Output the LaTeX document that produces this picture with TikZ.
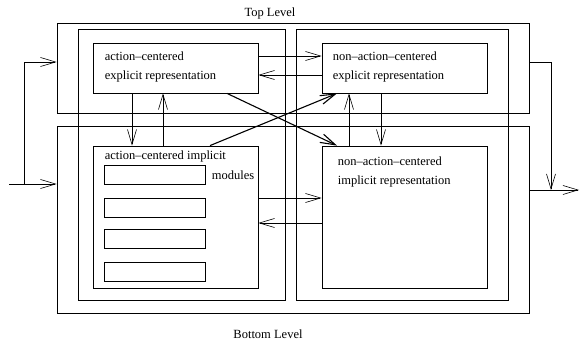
\documentclass[tikz,border=0pt]{standalone}
\usepackage{fontspec}
\setmainfont{Liberation Serif}
\usetikzlibrary{calc,arrows.meta,positioning}

\tikzset{
  frame/.style={draw, line width=0.8pt, inner sep=0pt},
  txt/.style={anchor=north west, inner sep=0pt, align=left, font=\fontsize{12.5}{19}\selectfont},
  lbl/.style={inner sep=0pt, font=\fontsize{12.5}{14}\selectfont},
  arr/.style={-{Straight Barb[length=15pt,width=9pt]}, line width=0.6pt},
}

\begin{document}
\begin{tikzpicture}[x=1pt, y=-1pt]
		%%%%% START %%%%%
		\useasboundingbox (0,0) rectangle (582,347);
		
		% levels
		\node[frame, minimum width=472pt, minimum height=90pt] (toplvl) at (293,68) {};
		\node[frame, minimum width=472pt, minimum height=187pt] (botlvl) at (293,219.5) {};
		\node[lbl] (toplbl) at (270,13) {Top Level};
		\node[lbl] (botlbl) at (268,334) {Bottom Level};
		
		% columns
		\node[frame, minimum width=207pt, minimum height=271pt] (accol) at (181.5,164.5) {};
		\node[frame, minimum width=212pt, minimum height=271pt] (naccol) at (402,164.5) {};
		
		% representations
		\node[frame, minimum width=165pt, minimum height=50pt] (acexp) at (175.5,68) {};
		\node[frame, minimum width=165pt, minimum height=50pt] (nacexp) at (404.5,68) {};
		\node[frame, minimum width=165pt, minimum height=142pt] (acimp) at (175.5,217) {};
		\node[frame, minimum width=165pt, minimum height=142pt] (nacimp) at (404.5,217) {};
		
		\node[txt] (acexptxt) at ($(acexp.north west)+(12,9)$) {action--centered\\explicit representation};
		\node[txt] (nacexptxt) at ($(nacexp.north west)+(11,9)$) {non--action--centered\\explicit representation};
		\node[txt] (acimptxt) at ($(acimp.north west)+(12,5)$) {action--centered implicit};
		\node[txt] (nacimptxt) at ($(nacimp.north west)+(16,11)$) {non--action--centered\\implicit representation};
		
		% modules
		\foreach \i/\y in {1/174.5, 2/207.5, 3/239, 4/271.5}
			\node[frame, minimum width=101pt, minimum height=19pt] (mod\i) at (154.5,\y) {};
		\node[lbl] (modlbl) at (233,175) {modules};
		
		% input and output
		\coordinate (in) at (9,184);
		\coordinate (split) at (24,184);
		\coordinate (outjoin) at (551,190);
		\coordinate (out) at (579,190);
		\draw[arr] (in) -- ($(botlvl.west)+(0,-35.5)$);
		\draw[arr] (split) |- ($(toplvl.west)+(0,-6)$);
		\draw[arr] ($(toplvl.east)+(0,-6)$) -| (outjoin);
		\draw[arr] ($(botlvl.east)+(0,-29.5)$) -- (out);
		
		% between representations
		\draw[arr] ($(acexp.east)+(0,-12)$) -- ($(nacexp.west)+(0,-12)$);
		\draw[arr] ($(nacexp.west)+(0,7)$) -- ($(acexp.east)+(0,7)$);
		\draw[arr] ($(acexp.south)+(-43.5,0)$) -- ($(acimp.north)+(-43.5,0)$);
		\draw[arr] ($(acimp.north)+(-12.5,0)$) -- ($(acexp.south)+(-12.5,0)$);
		\draw[arr] ($(nacexp.south)+(-23.5,0)$) -- ($(nacimp.north)+(-23.5,0)$);
		\draw[arr] ($(nacimp.north)+(-55.5,0)$) -- ($(nacexp.south)+(-55.5,0)$);
		\draw[arr] ($(acimp.east)+(0,-19)$) -- ($(nacimp.west)+(0,-19)$);
		\draw[arr] ($(nacimp.west)+(0,6)$) -- ($(acimp.east)+(0,6)$);
		\draw[arr, line width=1.1pt] ($(acexp.south)+(51.5,0)$) -- ($(nacimp.north)+(-67.5,0)$);
		\draw[arr, line width=1.1pt] ($(acimp.north)+(34.5,0)$) -- ($(nacexp.south)+(-67.5,0)$);
		
		%%%%% END %%%%%
\end{tikzpicture}
\end{document}
